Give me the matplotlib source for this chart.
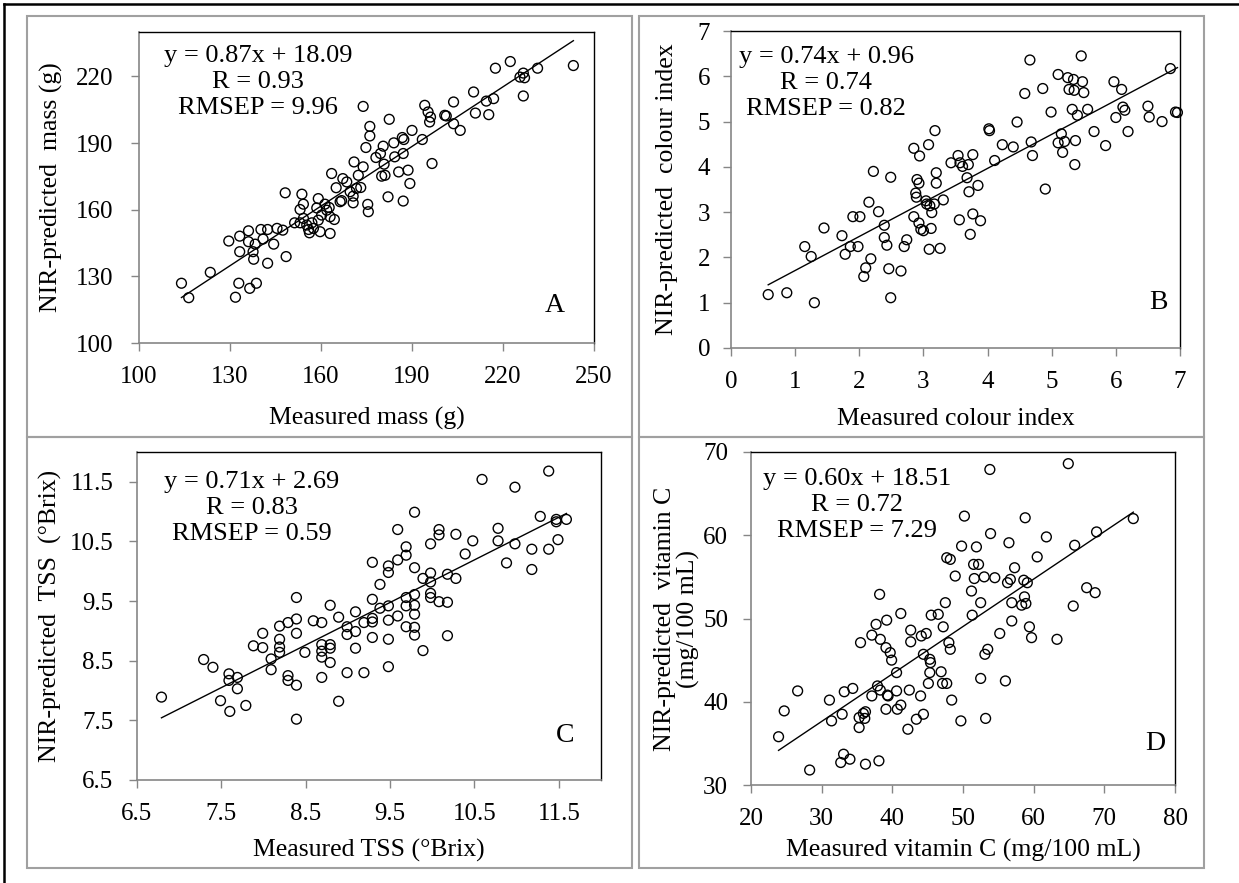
import numpy as np
import matplotlib.pyplot as plt
from matplotlib.patches import Rectangle
from matplotlib.lines import Line2D

plt.rcParams['font.family'] = ['Liberation Serif', 'DejaVu Serif']

# ---- data ----
# A: mass (g)
mass_meas = [114.0, 116.4, 123.5, 129.6, 131.8, 132.9, 133.2, 133.2, 136.1, 136.1,
             136.5, 137.6, 137.8, 138.3, 138.7, 140.2, 140.9, 142.4, 142.4, 144.4,
             145.5, 147.4, 148.2, 148.5, 151.3, 153.1, 153.1, 153.7, 154.2, 154.2,
             155.3, 155.9, 156.2, 157.0, 157.5, 159.1, 158.6, 159.1, 159.7, 160.2,
             161.3, 161.9, 162.7, 163.0, 163.0, 164.4, 163.5, 165.0, 166.3, 166.8,
             167.2, 168.5, 169.6, 170.6, 170.6, 170.9, 171.7, 172.3, 173.1, 173.9,
             173.9, 174.8, 175.4, 175.6, 176.1, 176.1, 178.1, 179.6, 180.0, 180.5,
             180.8, 181.1, 182.1, 182.5, 184.0, 184.3, 185.6, 186.8, 187.3, 187.1,
             187.1, 188.7, 189.3, 190.0, 193.4, 194.2, 195.3, 195.8, 196.1, 196.6,
             200.8, 201.3, 203.7, 203.7, 205.9, 210.3, 210.9, 214.5, 215.3, 216.9,
             217.5, 222.4, 225.6, 226.7, 227.1, 226.7, 231.4, 243.2]
mass_pred = [126.9, 120.4, 131.8, 145.9, 120.6, 126.9, 148.1, 141.1, 150.5, 145.6,
             124.6, 141.1, 137.7, 144.5, 126.9, 151.1, 146.8, 151.1, 135.9, 144.5,
             151.6, 150.8, 167.6, 138.9, 154.1, 154.1, 160.1, 167.0, 162.5, 156.1,
             153.1, 151.1, 149.6, 154.1, 151.6, 165.0, 160.8, 155.3, 150.1, 157.6,
             162.5, 159.8, 161.0, 149.3, 156.8, 155.6, 176.3, 169.9, 163.6, 164.1,
             174.0, 172.5, 168.1, 163.1, 166.1, 181.5, 169.6, 175.5, 170.0, 206.5,
             179.3, 188.0, 162.4, 159.1, 197.5, 193.2, 183.5, 185.3, 175.1, 188.6,
             180.5, 175.5, 165.8, 200.7, 190.1, 183.8, 177.0, 192.5, 191.6, 185.3,
             163.9, 177.8, 171.8, 195.7, 191.6, 207.0, 204.0, 199.5, 201.7, 180.8,
             202.5, 202.2, 208.5, 198.7, 195.7, 213.0, 203.5, 208.9, 202.8, 210.0,
             223.7, 226.7, 219.7, 221.5, 219.4, 211.2, 223.7, 224.9]

# B: colour index
col_meas = [0.58, 0.87, 1.30, 1.15, 1.25, 1.45, 1.73, 1.78, 1.86, 1.90,
            1.98, 2.01, 2.07, 2.10, 2.15, 2.18, 2.22, 2.30, 2.39, 2.39,
            2.43, 2.46, 2.49, 2.49, 2.65, 2.70, 2.74, 2.85, 2.85, 2.88,
            2.89, 2.90, 2.93, 2.94, 2.93, 2.96, 3.00, 3.04, 3.05, 3.08,
            3.09, 3.10, 3.12, 3.13, 3.17, 3.18, 3.20, 3.20, 3.26, 3.31,
            3.43, 3.54, 3.56, 3.57, 3.61, 3.68, 3.70, 3.71, 3.73, 3.77,
            3.77, 3.85, 3.89, 4.02, 4.03, 4.11, 4.23, 4.40, 4.46, 4.58,
            4.66, 4.68, 4.70, 4.86, 4.90, 4.99, 5.10, 5.10, 5.15, 5.17,
            5.20, 5.25, 5.27, 5.32, 5.34, 5.35, 5.36, 5.37, 5.40, 5.46,
            5.48, 5.50, 5.56, 5.66, 5.84, 5.97, 6.00, 6.09, 6.11, 6.14,
            6.19, 6.50, 6.52, 6.72, 6.85, 6.93, 6.96]
col_pred = [1.18, 1.22, 1.00, 2.24, 2.02, 2.65, 2.48, 2.07, 2.24, 2.90,
            2.24, 2.90, 1.58, 1.77, 3.22, 1.97, 3.90, 3.01, 2.71, 2.44,
            2.27, 1.75, 1.11, 3.77, 1.70, 2.24, 2.39, 4.41, 2.90, 3.42,
            3.33, 3.72, 3.64, 4.24, 2.76, 2.62, 2.59, 3.25, 3.18, 4.49,
            2.18, 3.14, 2.64, 2.99, 3.18, 4.80, 3.87, 3.64, 2.20, 3.27,
            4.09, 4.25, 2.83, 4.09, 4.01, 3.76, 4.05, 3.45, 2.51, 4.27,
            2.96, 3.59, 2.81, 4.84, 4.80, 4.14, 4.49, 4.44, 4.99, 5.62,
            6.36, 4.55, 4.25, 5.73, 3.51, 5.21, 6.04, 4.53, 4.73, 4.32,
            4.56, 5.97, 5.71, 5.27, 5.93, 5.69, 4.05, 4.58, 5.14, 6.45,
            5.88, 5.64, 5.27, 4.78, 4.47, 5.88, 5.09, 5.71, 5.32, 5.25,
            4.78, 5.34, 5.10, 5.00, 6.17, 5.21, 5.20]

# C: TSS (°Brix)
tss_meas = [6.79, 7.29, 7.40, 7.49, 7.59, 7.59, 7.60, 7.69, 7.69, 7.79,
            7.88, 7.99, 7.99, 8.09, 8.09, 8.19, 8.19, 8.19, 8.19, 8.29,
            8.29, 8.29, 8.39, 8.39, 8.39, 8.39, 8.39, 8.49, 8.59, 8.69,
            8.69, 8.69, 8.69, 8.69, 8.79, 8.79, 8.79, 8.79, 8.89, 8.89,
            8.99, 8.99, 8.99, 9.09, 9.09, 9.09, 9.19, 9.19, 9.29, 9.29,
            9.29, 9.29, 9.29, 9.38, 9.38, 9.48, 9.48, 9.48, 9.48, 9.48,
            9.48, 9.59, 9.59, 9.59, 9.69, 9.69, 9.69, 9.69, 9.69, 9.79,
            9.79, 9.79, 9.79, 9.79, 9.79, 9.79, 9.89, 9.89, 9.98, 9.98,
            9.98, 9.98, 9.98, 10.08, 10.08, 10.08, 10.18, 10.18, 10.18, 10.28,
            10.28, 10.39, 10.48, 10.59, 10.78, 10.78, 10.88, 10.98, 10.98, 11.18,
            11.18, 11.28, 11.38, 11.38, 11.47, 11.47, 11.49, 11.59]
tss_pred = [7.89, 8.52, 8.39, 7.83, 8.28, 8.17, 7.65, 8.22, 8.03, 7.75,
            8.75, 8.96, 8.72, 8.53, 8.35, 9.08, 8.86, 8.73, 8.64, 9.14,
            8.25, 8.17, 9.56, 9.20, 8.96, 8.09, 7.52, 8.64, 9.17, 9.14,
            8.77, 8.66, 8.56, 8.22, 9.43, 8.77, 8.71, 8.47, 9.23, 7.82,
            9.07, 8.94, 8.30, 9.32, 8.99, 8.71, 9.14, 8.30, 10.15, 9.53,
            9.21, 9.15, 8.89, 9.78, 9.38, 10.09, 9.98, 9.42, 9.18, 8.86,
            8.40, 10.70, 10.19, 9.25, 10.41, 10.27, 9.56, 9.42, 9.07, 10.99,
            10.06, 9.61, 9.43, 9.28, 9.06, 8.93, 9.88, 8.67, 10.46, 9.97,
            9.82, 9.63, 9.56, 10.70, 10.61, 9.49, 9.95, 9.48, 8.92, 10.62,
            9.88, 10.29, 10.51, 11.54, 10.72, 10.51, 10.14, 11.41, 10.46, 10.37,
            10.03, 10.92, 11.68, 10.37, 10.87, 10.83, 10.53, 10.87]

# D: vitamin C (mg/100 mL)
vitc_meas = [23.9, 24.7, 26.6, 28.3, 31.1, 31.4, 32.7, 32.9, 33.1, 33.2,
             34.0, 34.4, 35.3, 35.3, 35.5, 35.9, 36.1, 36.2, 36.2, 37.1,
             37.1, 37.7, 37.9, 38.1, 38.2, 38.3, 38.3, 39.1, 39.1, 39.2,
             39.3, 39.4, 39.7, 39.9, 40.6, 40.6, 40.7, 41.2, 41.2, 42.2,
             42.4, 42.6, 42.6, 43.4, 44.0, 44.1, 44.4, 44.4, 44.8, 45.1,
             45.3, 45.3, 45.4, 45.5, 46.5, 46.9, 47.1, 47.2, 47.5, 47.7,
             47.7, 48.0, 48.2, 48.2, 48.4, 48.9, 49.7, 49.8, 50.2, 51.2,
             51.3, 51.5, 51.6, 51.9, 52.2, 52.5, 52.5, 53.0, 53.1, 53.2,
             53.5, 53.8, 53.9, 54.5, 55.2, 56.0, 56.3, 56.5, 56.7, 56.9,
             56.9, 57.3, 58.3, 58.6, 58.7, 58.8, 58.9, 59.1, 59.4, 59.7,
             60.5, 61.8, 63.3, 64.9, 65.6, 65.8, 67.5, 68.7, 68.9, 74.1]
vitc_pred = [35.8, 38.9, 41.3, 31.8, 40.2, 37.7, 32.7, 38.5, 33.7, 41.2,
             33.1, 41.6, 36.9, 38.1, 47.1, 38.6, 38.0, 32.5, 38.8, 40.7,
             48.0, 49.3, 41.9, 32.9, 52.9, 47.5, 41.4, 39.1, 46.5, 49.8,
             40.8, 40.7, 45.9, 45.0, 43.5, 41.3, 39.1, 39.6, 50.6, 36.7,
             41.4, 48.6, 47.2, 37.9, 40.7, 47.9, 45.7, 38.5, 48.2, 42.2,
             45.1, 43.5, 44.7, 50.4, 50.5, 43.6, 42.2, 49.0, 51.9, 42.2,
             57.3, 47.1, 57.1, 46.3, 40.2, 55.1, 37.7, 58.7, 62.3, 53.3,
             50.4, 56.5, 54.8, 58.6, 56.5, 51.9, 42.8, 55.0, 45.7, 38.0,
             46.3, 67.9, 60.2, 54.9, 48.2, 42.5, 54.3, 59.1, 54.7, 51.9,
             49.7, 56.1, 51.6, 54.6, 52.6, 62.1, 51.8, 54.3, 49.0, 47.7,
             57.4, 59.8, 47.5, 68.6, 51.5, 58.8, 53.7, 53.1, 60.4, 62.0]

W, H = 1239, 883
fig = plt.figure(figsize=(W / 100, H / 100), dpi=100)


def px_rect(x0, y0, x1, y1):
    # pixel box (top-left origin) -> figure fraction [l, b, w, h]
    return [x0 / W, 1 - y1 / H, (x1 - x0) / W, (y1 - y0) / H]


# outer frame lines and grey panel boxes
fig.add_artist(Line2D([4 / W, 4 / W], [0, 1 - 4 / H], color='black', lw=1.8))
fig.add_artist(Line2D([4 / W, 1], [1 - 4 / H, 1 - 4 / H], color='black', lw=1.8))
for box in [(27, 16, 632, 437), (639, 16, 1204, 437),
            (27, 437, 632, 868), (639, 437, 1204, 868)]:
    l, b, w, h = px_rect(*box)
    fig.add_artist(Rectangle((l, b), w, h, transform=fig.transFigure,
                             fill=False, ec='#a0a0a0', lw=1.5))

grey = '#868686'


def panel(box, x, y, xlim, ylim, xticks, yticks, xlabel, ylabel, ylab_x,
          labelpad, ypad, note, note_xy, letter, letter_xy):
    ax = fig.add_axes(px_rect(*box))
    ax.scatter(x, y, s=50, facecolors='none', edgecolors='black',
               linewidths=1.0, zorder=3, clip_on=False)
    k, b = np.polyfit(x, y, 1)
    xs = np.array([min(x), max(x)])
    ax.plot(xs, k * xs + b, color='black', lw=1.0, zorder=2)
    ax.set_xlim(xlim)
    ax.set_ylim(ylim)
    ax.set_xticks(xticks)
    ax.set_yticks(yticks)
    for s in ['left', 'bottom']:
        ax.spines[s].set_color(grey)
        ax.spines[s].set_linewidth(1.2)
    for s in ['top', 'right']:
        ax.spines[s].set_color('black')
        ax.spines[s].set_linewidth(1.0)
    ax.tick_params(axis='both', direction='out', length=5.5, width=1.0,
                   color=grey, labelsize=18)
    ax.tick_params(axis='x', pad=11)
    ax.tick_params(axis='y', pad=ypad)
    ax.set_xlabel(xlabel, fontsize=18.5, labelpad=labelpad)
    ax.set_ylabel(ylabel, fontsize=18.5, linespacing=1.1)
    ax.yaxis.set_label_coords(ylab_x, 0.5)
    ax.yaxis.label.set_va('center')
    ax.text(note_xy[0], note_xy[1], note, transform=ax.transAxes,
            ha='center', va='center', multialignment='center',
            fontsize=19, linespacing=1.25)
    ax.text(letter_xy[0], letter_xy[1], letter, transform=ax.transAxes,
            ha='center', va='center', fontsize=20)
    return ax


panel((139, 32, 594, 343), mass_meas, mass_pred, (100, 250), (100, 240),
      [100, 130, 160, 190, 220, 250], [100, 130, 160, 190, 220],
      'Measured mass (g)', 'NIR-predicted  mass (g)', -0.193, 14, 13,
      'y = 0.87x + 18.09\nR = 0.93\nRMSEP = 9.96', (0.262, 0.839),
      'A', (0.914, 0.122))

panel((731, 31, 1180, 348), col_meas, col_pred, (0, 7), (0, 7),
      list(range(8)), list(range(8)),
      'Measured colour index', 'NIR-predicted  colour index', -0.1425, 11, 9.5,
      'y = 0.74x + 0.96\nR = 0.74\nRMSEP = 0.82', (0.212, 0.836),
      'B', (0.951, 0.142))

panel((137, 452, 601, 780), tss_meas, tss_pred, (6.5, 12.0), (6.5, 12.0),
      [6.5, 7.5, 8.5, 9.5, 10.5, 11.5], [6.5, 7.5, 8.5, 9.5, 10.5, 11.5],
      'Measured TSS (°Brix)', 'NIR-predicted  TSS  (°Brix)', -0.1875, 10, 11.5,
      'y = 0.71x + 2.69\nR = 0.83\nRMSEP = 0.59', (0.248, 0.829),
      'C', (0.922, 0.137))

panel((751, 452, 1175, 785), vitc_meas, vitc_pred, (20, 80), (30, 70),
      [20, 30, 40, 50, 60, 70, 80], [30, 40, 50, 60, 70],
      'Measured vitamin C (mg/100 mL)',
      'NIR-predicted  vitamin C\n(mg/100 mL)', -0.1745, 6.5, 11,
      'y = 0.60x + 18.51\nR = 0.72\nRMSEP = 7.29', (0.25, 0.841),
      'D', (0.953, 0.126))

fig.savefig('out.png', dpi=100)
